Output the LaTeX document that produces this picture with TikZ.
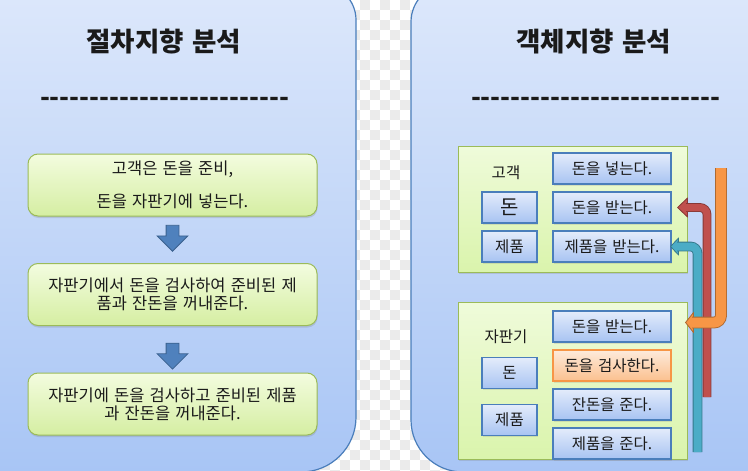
\documentclass[tikz,border=0pt]{standalone}
\usepackage{fontspec}
\setmainfont{Noto Sans CJK KR}[WordSpace=1.4]
\usetikzlibrary{positioning,calc,shapes.arrows,shadows}

\definecolor{ink}{HTML}{1A1A1A}
\definecolor{checker}{HTML}{EBEBEB}
\definecolor{paneltop}{HTML}{DDE8FB}
\definecolor{panelbot}{HTML}{A8C5F5}
\definecolor{panelline}{HTML}{4A7EBB}
\definecolor{flowtop}{HTML}{F3FCDF}
\definecolor{flowbot}{HTML}{D5EEA2}
\definecolor{flowline}{HTML}{9BBB59}
\definecolor{grouptop}{HTML}{EFFBDA}
\definecolor{groupbot}{HTML}{DAF4AC}
\definecolor{boxtop}{HTML}{E4ECFB}
\definecolor{boxbot}{HTML}{A7C3F2}
\definecolor{boxline}{HTML}{4A7EBB}
\definecolor{checktop}{HTML}{FDEBDC}
\definecolor{checkbot}{HTML}{FBC08E}
\definecolor{checkline}{HTML}{F79646}
\definecolor{arrowblue}{HTML}{4F81BD}
\definecolor{tealarrow}{HTML}{4BACC6}
\definecolor{redarrow}{HTML}{C0504D}
\definecolor{orangearrow}{HTML}{F79646}

\newcommand\dashtext{\foreach \n in {1,...,25}{-{}}}

\tikzset{
  panel/.style={draw=panelline, line width=1.2pt, top color=paneltop, bottom color=panelbot},
  headline/.style={font=\fontsize{26.5}{30}\selectfont\bfseries},
  dashrow/.style={font=\fontsize{26}{26}\selectfont\bfseries, inner sep=0pt, anchor=base},
  flowbox/.style={draw=flowline, line width=1pt, rounded corners=10pt, top color=flowtop, bottom color=flowbot,
    minimum width=289pt, minimum height=62pt, align=center, font=\fontsize{16.5}{18}\selectfont,
    drop shadow={opacity=0.25, shadow xshift=0.5pt, shadow yshift=-2pt}},
  downarr/.style={shape=single arrow, rotate=-90, fill=arrowblue, draw=arrowblue!75!black, line width=0.8pt,
    minimum height=26pt, inner xsep=0pt, inner ysep=6pt, single arrow head extend=9pt},
  groupbox/.style={draw=flowline, line width=1pt, top color=grouptop, bottom color=groupbot, minimum width=229pt,
    drop shadow={opacity=0.25, shadow xshift=1pt, shadow yshift=-2pt}},
  groupname/.style={font=\fontsize{15.5}{17}\selectfont},
  methodbox/.style={draw=boxline, line width=1.1pt, top color=boxtop, bottom color=boxbot,
    minimum width=118pt, minimum height=31pt, inner sep=0pt, font=\fontsize{15.5}{17}\selectfont,
    drop shadow={opacity=0.2, shadow xshift=0.5pt, shadow yshift=-1.5pt}},
  fieldbox/.style={methodbox, minimum width=55pt},
  checkbox/.style={methodbox, draw=checkline, top color=checktop, bottom color=checkbot},
  shaft/.style={draw=#1!70!black, double=#1, line width=0.9pt, rounded corners=7pt}
}

\begin{document}
\begin{tikzpicture}[x=1pt, y=-1pt, node distance=109.5pt, every node/.style={text=ink}]
  \useasboundingbox (0,0) rectangle (748,471);
  \clip (0,0) rectangle (748,471);

  % see-through background between the panels
  \fill[white] (290,0) rectangle (480,471);
  \foreach \i in {29,...,47}
    \foreach \j in {0,...,47}{
      \pgfmathtruncatemacro\k{mod(\i+\j,2)}
      \ifnum\k=0 \fill[checker] (\i*10,\j*10) rectangle ++(10,10); \fi}

  % the two panels
  \draw[panel] (-20,-16) -- (320,-16) arc (270:360:36) -- (356,417) arc (0:90:55) -- (-20,472) -- cycle;
  \draw[panel] (780,-16) -- (449,-16) arc (270:180:38) -- (411,420) arc (180:90:52) -- (780,472) -- cycle;

  \node[headline] (ptitle) at (164,42)    {절차지향 분석};
  \node[headline] (otitle) at (594,42)    {객체지향 분석};
  \node[dashrow]  (pline)  at (164.5,106) {\dashtext};
  \node[dashrow]  (oline)  at (595.5,106) {\dashtext};

  % procedural steps
  \node[flowbox] (b1) at (172.5,185) {고객은 돈을 준비,\\[15pt]돈을 자판기에 넣는다.};
  \node[flowbox] (b2) [below of=b1]   {자판기에서 돈을 검사하여 준비된 제\\품과 잔돈을 꺼내준다.};
  \node[flowbox] (b3) [below of=b2]   {자판기에 돈을 검사하고 준비된 제품\\과 잔돈을 꺼내준다.};

  \foreach \a/\b/\p in {b1/b2/0.4, b2/b3/0.58}
    \path (\a) -- node[downarr, pos=\p] {} (\b);

  % objects
  \node[groupbox, minimum height=126pt] (cust) at (572.5,209)   {};
  \node[groupbox, minimum height=157pt] (vend) at (572.5,380.5) {};

  \begin{scope}[node distance=39pt]
    \node[groupname] (custname) at (506,173)    {고객};
    \node[methodbox] (cput)     at (612,168.5)  {돈을 넣는다.};
    \node[methodbox] (cget)     [below of=cput] {돈을 받는다.};
    \node[methodbox] (cgoods)   [below of=cget] {제품을 받는다.};
    \node[fieldbox, font=\fontsize{20}{22}\selectfont] (cmoney) [left of=cget, node distance=102.5pt] {돈};
    \node[fieldbox] (cstock)    [left of=cgoods, node distance=102.5pt] {제품};

    \node[groupname] (vendname) at (506,336.5)     {자판기};
    \node[methodbox] (vget)     at (612,326.5)     {돈을 받는다.};
    \node[checkbox]  (vcheck)   [below of=vget]    {돈을 검사한다.};
    \node[methodbox] (vchange)  [below of=vcheck]  {잔돈을 준다.};
    \node[methodbox] (vgive)    [below of=vchange] {제품을 준다.};
    \node[fieldbox]  (vmoney)   at (509.5,373)     {돈};
    \node[fieldbox]  (vstock)   at (509.5,420)     {제품};
  \end{scope}

  % message arrows
  \coordinate (tealtail)   at (697.5,452);
  \coordinate (redtail)    at (707,397);
  \coordinate (orangetail) at (721,168);
  \coordinate (tealtip)    at ($(cgoods.east)+(-1,0)$);
  \coordinate (redtip)     at ($(cget.east)+(6,0)$);
  \coordinate (orangetip)  at ($(vget.east)+(14,-4)$);

  \foreach \tail/\tip/\col/\w/\hl/\hw in {tealtail/tealtip/tealarrow/8/8/8.5,
      redtail/redtip/redarrow/7/10/9.5, orangetail/orangetip/orangearrow/10/8/10}{
    \filldraw[fill=\col, draw=\col!70!black, line width=0.8pt, line join=round]
      (\tip) -- ++(\hl,-\hw) -- ++(0,2*\hw) -- cycle;
    \draw[shaft=\col, double distance=\w pt] (\tail) |- ($(\tip)+(\hl-1.5,0)$);
  }
\end{tikzpicture}
\end{document}
